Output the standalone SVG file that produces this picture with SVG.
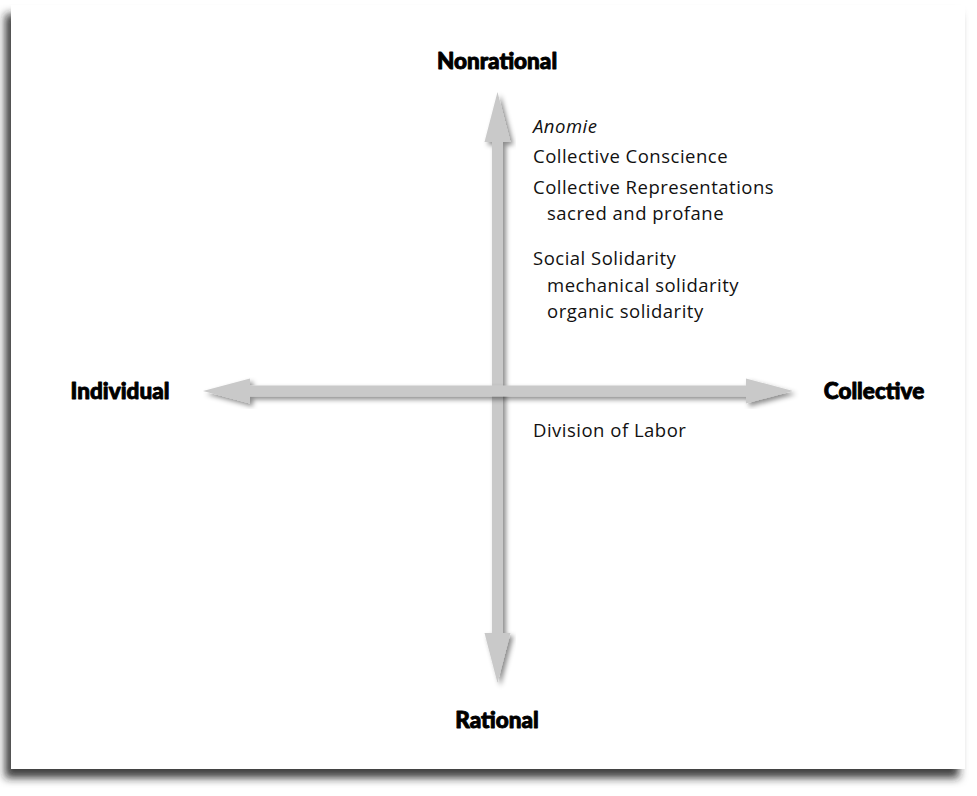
<svg xmlns="http://www.w3.org/2000/svg" width="977" height="796" viewBox="0 0 977 796">
<defs>
<filter id="frameShadow" x="-5%" y="-5%" width="110%" height="110%">
<feDropShadow dx="-6" dy="9" stdDeviation="4" flood-color="#222" flood-opacity="0.85"/>
</filter>
<filter id="arrowShadow" x="-20%" y="-20%" width="140%" height="140%">
<feDropShadow dx="3" dy="3" stdDeviation="2.5" flood-color="#000" flood-opacity="0.45"/>
</filter>
<style>
.axis{font-family:"Lato","Open Sans","DejaVu Sans",sans-serif;font-weight:900;font-size:22.5px;fill:#000;stroke:#000;stroke-width:0.9px;stroke-linejoin:round}
.item{font-family:"Open Sans","Liberation Sans",sans-serif;font-size:18.5px;letter-spacing:0.5px;fill:#111}
.it{font-style:italic}
.arrow{fill:#c9c9c9;filter:url(#arrowShadow)}
</style>
</defs>
<rect x="0" y="0" width="977" height="796" fill="#ffffff"/>
<rect x="11" y="5" width="954" height="764" fill="#ffffff" filter="url(#frameShadow)"/>
<g id="connectors">
<polygon class="arrow" points="497.5,92 510.5,142 503,142 503,633 510.5,633 497.5,683 484.5,633 492,633 492,142 484.5,142"/>
<polygon class="arrow" points="203,391 250,378.5 250,385.5 746,385.5 746,378.5 793,391 746,403.5 746,396.5 250,396.5 250,403.5"/>
</g>
<g id="nonrational"><text class="axis" x="497" y="69" text-anchor="middle">Nonrational</text></g>
<g id="rational"><text class="axis" x="497" y="728" text-anchor="middle">Rational</text></g>
<g id="individual"><text class="axis" x="120" y="399" text-anchor="middle">Individual</text></g>
<g id="collective"><text class="axis" x="874" y="399" text-anchor="middle">Collective</text></g>
<g id="concepts">
<text class="item it" x="533" y="133">Anomie</text>
<text class="item" x="533" y="163">Collective Conscience</text>
<text class="item" x="533" y="194">Collective Representations</text>
<text class="item" x="547" y="220">sacred and profane</text>
<text class="item" x="533" y="265">Social Solidarity</text>
<text class="item" x="547" y="292">mechanical solidarity</text>
<text class="item" x="547" y="318">organic solidarity</text>
<text class="item" x="533" y="437">Division of Labor</text>
</g>
</svg>
